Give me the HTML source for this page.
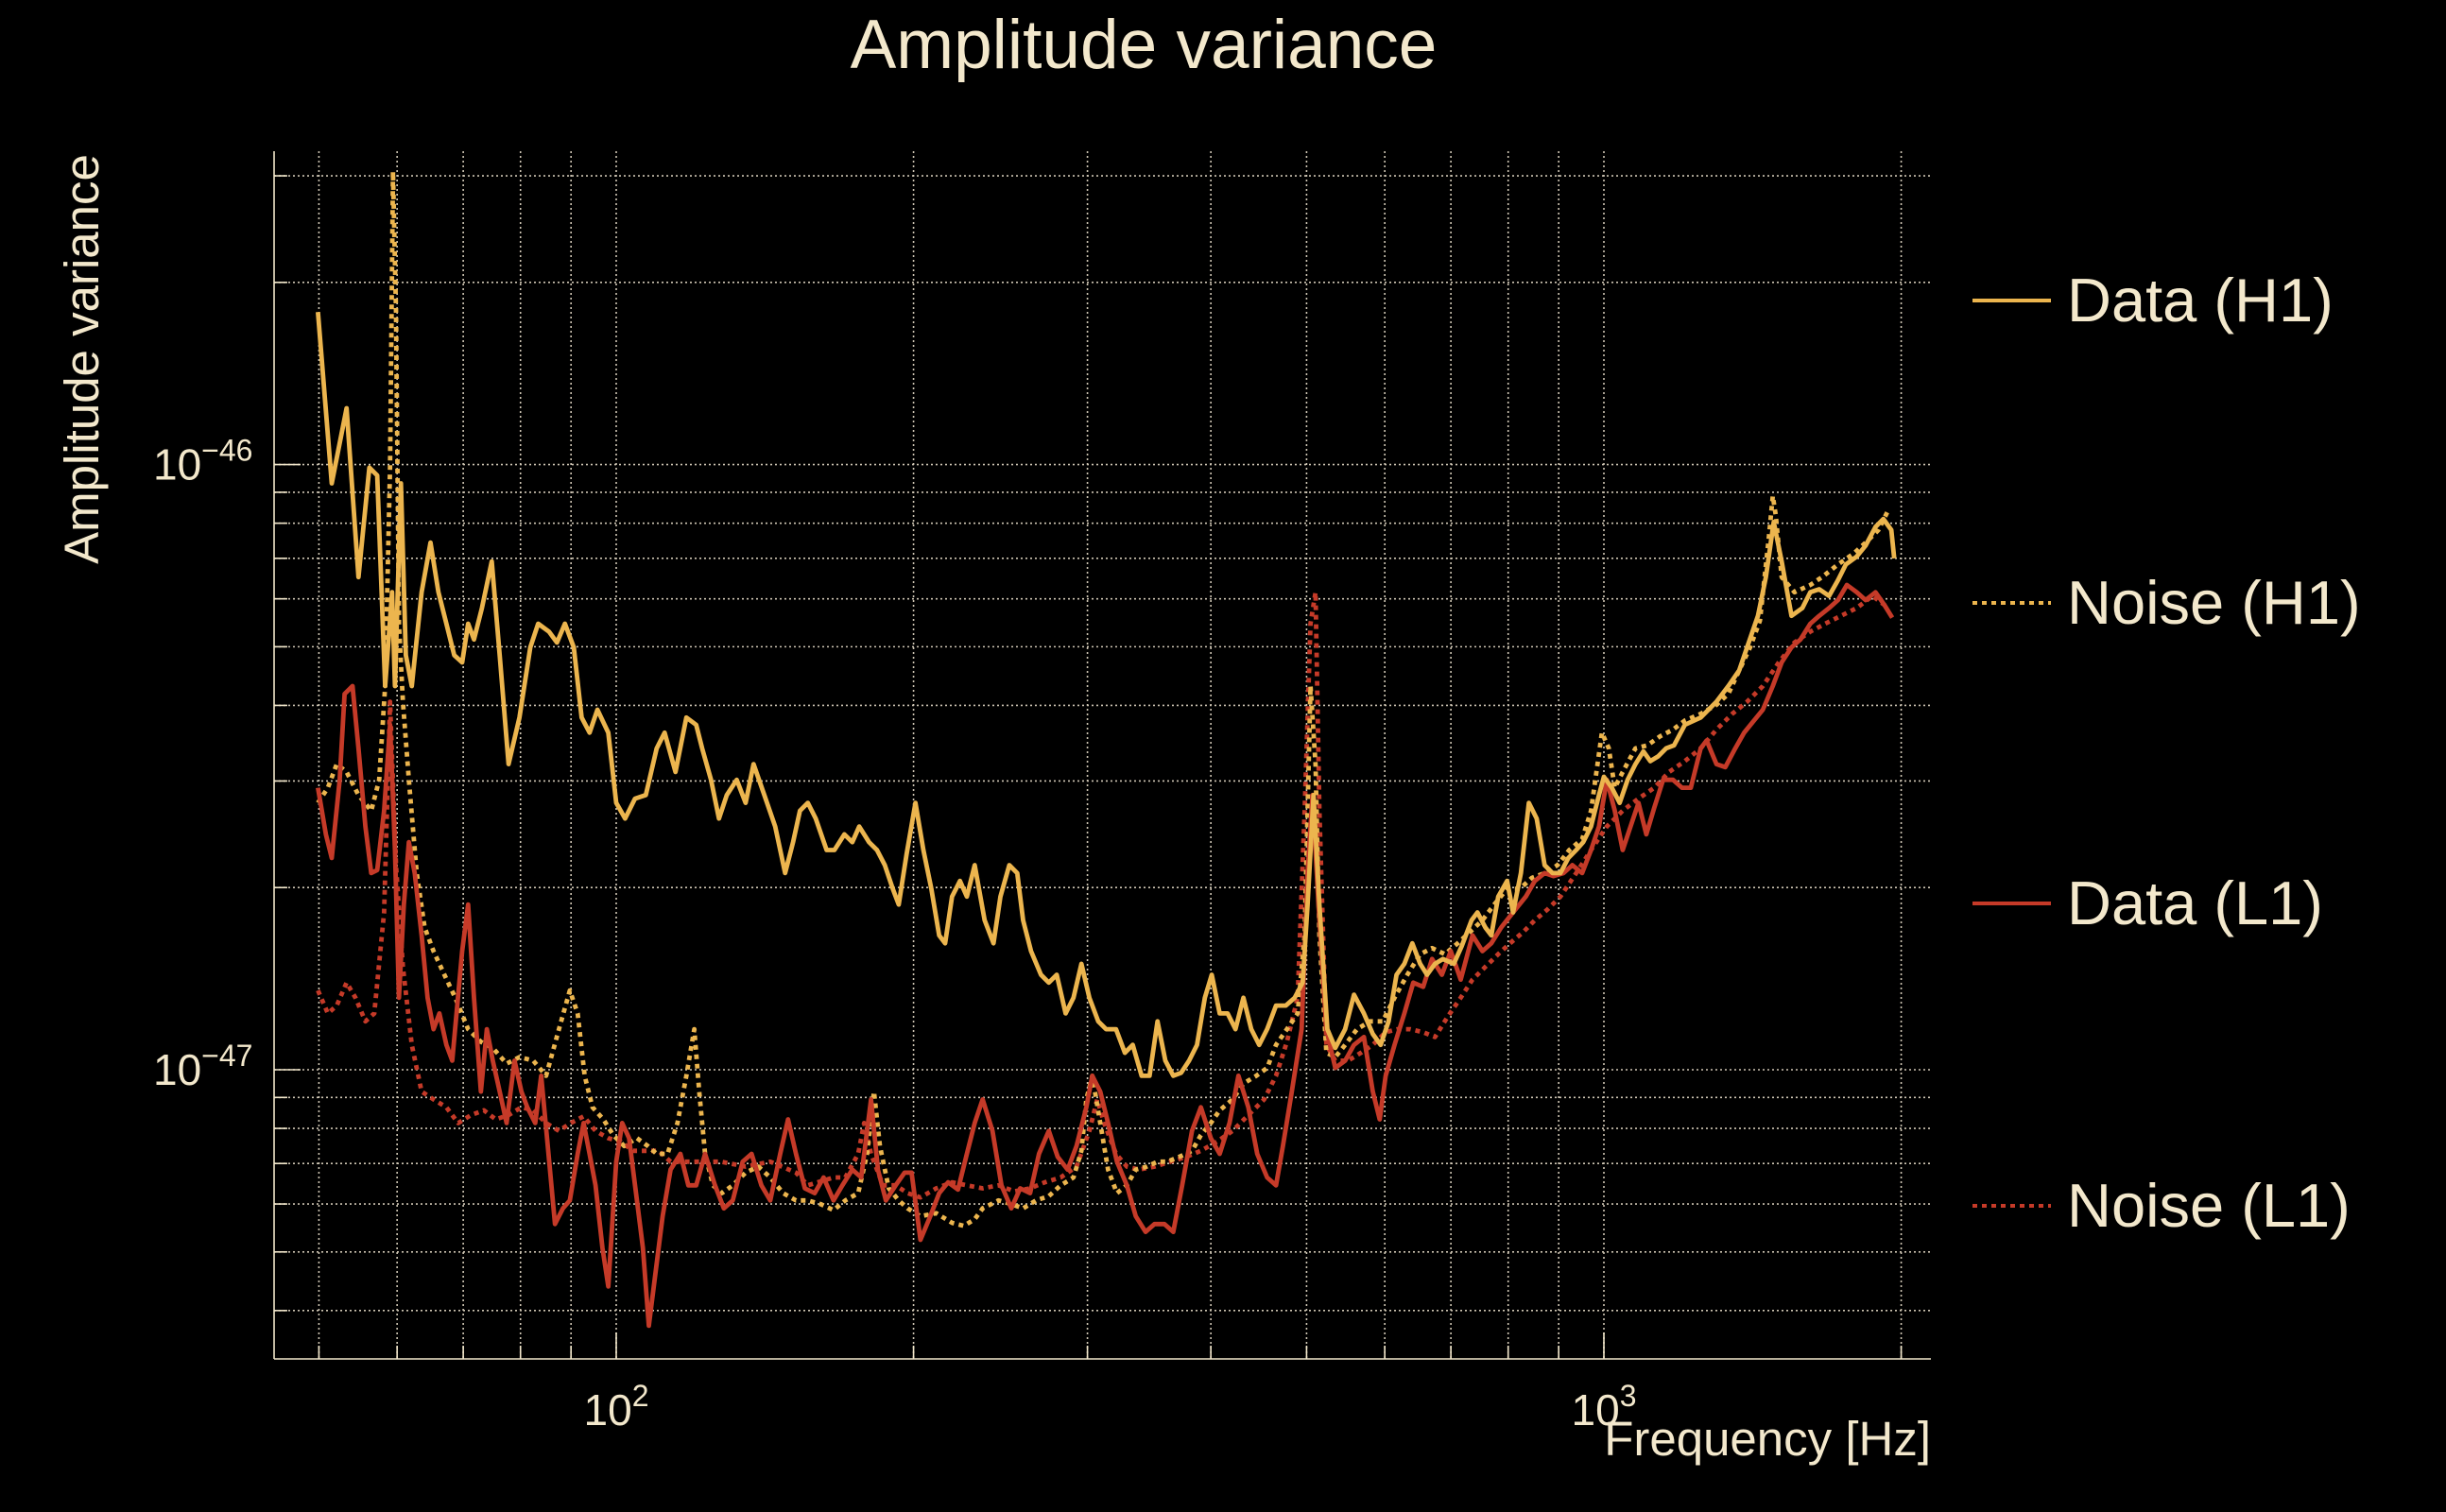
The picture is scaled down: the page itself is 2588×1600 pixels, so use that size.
<!DOCTYPE html>
<html><head><meta charset="utf-8"><style>
html,body{margin:0;padding:0;background:#000;}
svg{display:block;}
text{font-family:"Liberation Sans",sans-serif;fill:#f3e8cc;}
</style></head><body>
<svg id="chart" width="2588" height="1600" viewBox="0 0 2588 1600" xmlns="http://www.w3.org/2000/svg">
<rect x="0" y="0" width="2588" height="1600" fill="#000"/>
<g id="grid"></g>
<g id="axes"></g>
<g id="series"></g>
<text x="1210" y="72" font-size="73" text-anchor="middle">Amplitude variance</text>
<text transform="translate(104,380) rotate(-90)" font-size="51" text-anchor="middle">Amplitude variance</text>
<text x="2043" y="1540" font-size="51" text-anchor="end">Frequency [Hz]</text>
<g id="legend"></g>
</svg>
<script>
const NS="http://www.w3.org/2000/svg";
// data: log10(frequency in Hz) and log10(amplitude variance)
const h1DataLogF=[1.698,1.712,1.727,1.739,1.750,1.758,1.766,1.773,1.776,1.782,1.787,1.793,1.803,1.812,1.820,1.828,1.836,1.844,1.850,1.856,1.864,1.874,1.882,1.891,1.902,1.913,1.921,1.932,1.940,1.948,1.957,1.965,1.973,1.981,1.992,2.000,2.009,2.019,2.030,2.041,2.049,2.060,2.071,2.081,2.087,2.096,2.104,2.112,2.122,2.131,2.139,2.150,2.161,2.171,2.179,2.186,2.194,2.202,2.213,2.221,2.231,2.239,2.246,2.256,2.264,2.272,2.280,2.286,2.294,2.303,2.311,2.319,2.327,2.333,2.340,2.348,2.355,2.363,2.373,2.382,2.389,2.398,2.406,2.412,2.420,2.430,2.438,2.446,2.455,2.463,2.471,2.479,2.488,2.496,2.506,2.515,2.523,2.532,2.540,2.548,2.556,2.564,2.572,2.580,2.588,2.596,2.603,2.611,2.619,2.627,2.635,2.643,2.651,2.659,2.668,2.678,2.687,2.695,2.700,2.706,2.712,2.720,2.728,2.738,2.747,2.757,2.766,2.774,2.782,2.790,2.798,2.806,2.814,2.821,2.829,2.837,2.848,2.856,2.866,2.872,2.880,2.886,2.893,2.902,2.908,2.916,2.924,2.932,2.940,2.948,2.956,2.964,2.972,2.979,2.987,2.995,3.000,3.008,3.016,3.024,3.032,3.040,3.047,3.055,3.063,3.071,3.082,3.098,3.114,3.126,3.137,3.145,3.156,3.164,3.172,3.180,3.190,3.201,3.209,3.218,3.228,3.237,3.245,3.256,3.265,3.275,3.283,3.291,3.294];
const h1DataLogA=[-45.748,-46.031,-45.907,-46.186,-46.005,-46.018,-46.366,-46.211,-46.366,-46.031,-46.315,-46.366,-46.211,-46.129,-46.211,-46.263,-46.315,-46.327,-46.263,-46.289,-46.237,-46.160,-46.315,-46.495,-46.418,-46.302,-46.263,-46.276,-46.294,-46.263,-46.302,-46.418,-46.443,-46.405,-46.443,-46.559,-46.585,-46.552,-46.546,-46.469,-46.443,-46.508,-46.418,-46.430,-46.469,-46.521,-46.585,-46.546,-46.521,-46.559,-46.495,-46.546,-46.598,-46.675,-46.624,-46.572,-46.559,-46.585,-46.637,-46.637,-46.611,-46.624,-46.598,-46.624,-46.637,-46.662,-46.701,-46.727,-46.644,-46.559,-46.637,-46.701,-46.778,-46.791,-46.714,-46.688,-46.714,-46.662,-46.753,-46.791,-46.714,-46.662,-46.675,-46.753,-46.804,-46.843,-46.856,-46.843,-46.907,-46.881,-46.825,-46.881,-46.920,-46.933,-46.933,-46.972,-46.959,-47.010,-47.010,-46.920,-46.985,-47.010,-47.005,-46.985,-46.959,-46.881,-46.843,-46.907,-46.907,-46.933,-46.881,-46.933,-46.959,-46.933,-46.894,-46.894,-46.881,-46.856,-46.727,-46.546,-46.727,-46.933,-46.964,-46.933,-46.876,-46.907,-46.941,-46.959,-46.920,-46.843,-46.825,-46.791,-46.825,-46.843,-46.825,-46.817,-46.825,-46.796,-46.753,-46.740,-46.765,-46.778,-46.714,-46.688,-46.740,-46.675,-46.559,-46.585,-46.662,-46.675,-46.675,-46.650,-46.637,-46.624,-46.598,-46.546,-46.516,-46.534,-46.559,-46.521,-46.495,-46.474,-46.490,-46.482,-46.469,-46.464,-46.430,-46.418,-46.392,-46.366,-46.340,-46.302,-46.250,-46.186,-46.095,-46.160,-46.250,-46.237,-46.211,-46.206,-46.217,-46.191,-46.165,-46.152,-46.134,-46.103,-46.090,-46.108,-46.155];
const h1NoiseLogF=[1.698,1.708,1.717,1.727,1.739,1.752,1.760,1.766,1.771,1.774,1.777,1.780,1.784,1.790,1.798,1.806,1.815,1.826,1.837,1.850,1.863,1.875,1.889,1.902,1.916,1.929,1.942,1.953,1.961,1.968,1.976,1.987,1.997,2.008,2.021,2.032,2.041,2.052,2.062,2.071,2.079,2.084,2.090,2.098,2.107,2.118,2.131,2.144,2.156,2.169,2.182,2.194,2.207,2.220,2.232,2.245,2.254,2.261,2.267,2.276,2.286,2.295,2.308,2.324,2.340,2.352,2.363,2.371,2.387,2.400,2.412,2.425,2.438,2.450,2.463,2.471,2.476,2.482,2.490,2.498,2.507,2.517,2.526,2.537,2.548,2.558,2.570,2.583,2.592,2.602,2.611,2.624,2.635,2.648,2.659,2.668,2.679,2.690,2.697,2.703,2.708,2.712,2.719,2.728,2.738,2.750,2.763,2.776,2.788,2.801,2.814,2.826,2.839,2.852,2.864,2.877,2.889,2.902,2.915,2.927,2.940,2.953,2.965,2.978,2.987,2.998,3.005,3.011,3.019,3.032,3.044,3.057,3.070,3.082,3.098,3.114,3.126,3.137,3.148,3.158,3.167,3.171,3.174,3.180,3.193,3.209,3.221,3.237,3.253,3.265,3.278,3.288];
const h1NoiseLogA=[-46.559,-46.534,-46.495,-46.508,-46.546,-46.572,-46.521,-46.366,-46.005,-45.516,-45.748,-46.263,-46.392,-46.521,-46.675,-46.765,-46.804,-46.843,-46.881,-46.933,-46.954,-46.964,-46.990,-46.979,-46.985,-47.010,-46.933,-46.869,-46.907,-47.010,-47.062,-47.082,-47.108,-47.126,-47.113,-47.126,-47.139,-47.139,-47.088,-47.010,-46.933,-47.036,-47.139,-47.191,-47.204,-47.191,-47.170,-47.160,-47.178,-47.204,-47.216,-47.216,-47.222,-47.232,-47.216,-47.204,-47.139,-47.036,-47.126,-47.196,-47.216,-47.229,-47.242,-47.237,-47.253,-47.258,-47.247,-47.229,-47.216,-47.222,-47.229,-47.216,-47.209,-47.191,-47.178,-47.134,-47.049,-47.010,-47.088,-47.165,-47.204,-47.191,-47.165,-47.160,-47.152,-47.152,-47.144,-47.134,-47.108,-47.088,-47.067,-47.049,-47.023,-47.010,-46.997,-46.959,-46.933,-46.907,-46.778,-46.366,-46.495,-46.778,-46.972,-46.979,-46.959,-46.933,-46.920,-46.920,-46.881,-46.843,-46.809,-46.799,-46.809,-46.791,-46.773,-46.753,-46.727,-46.701,-46.701,-46.683,-46.675,-46.662,-46.637,-46.619,-46.572,-46.443,-46.469,-46.534,-46.508,-46.469,-46.464,-46.449,-46.438,-46.423,-46.412,-46.397,-46.379,-46.340,-46.302,-46.258,-46.121,-46.052,-46.083,-46.186,-46.211,-46.199,-46.186,-46.165,-46.147,-46.129,-46.108,-46.075];
const l1DataLogF=[1.698,1.706,1.712,1.720,1.725,1.733,1.739,1.746,1.752,1.758,1.765,1.771,1.776,1.780,1.785,1.790,1.796,1.803,1.809,1.815,1.821,1.828,1.834,1.844,1.850,1.856,1.863,1.869,1.875,1.882,1.889,1.897,1.904,1.910,1.918,1.924,1.930,1.938,1.946,1.953,1.961,1.967,1.973,1.979,1.986,1.992,2.000,2.006,2.013,2.019,2.027,2.033,2.039,2.047,2.055,2.065,2.073,2.081,2.090,2.100,2.109,2.118,2.128,2.137,2.147,2.156,2.166,2.174,2.182,2.191,2.201,2.210,2.220,2.229,2.239,2.248,2.258,2.265,2.273,2.283,2.292,2.299,2.308,2.318,2.327,2.336,2.346,2.355,2.363,2.371,2.381,2.390,2.400,2.409,2.419,2.428,2.438,2.447,2.457,2.466,2.476,2.482,2.490,2.498,2.507,2.517,2.526,2.536,2.545,2.555,2.564,2.573,2.583,2.592,2.602,2.611,2.621,2.630,2.640,2.649,2.659,2.668,2.675,2.684,2.694,2.700,2.705,2.711,2.719,2.728,2.738,2.747,2.757,2.766,2.773,2.779,2.788,2.798,2.807,2.817,2.826,2.836,2.845,2.855,2.867,2.877,2.886,2.896,2.908,2.921,2.930,2.940,2.949,2.959,2.968,2.978,2.987,2.995,3.003,3.011,3.019,3.027,3.035,3.043,3.051,3.060,3.070,3.079,3.088,3.098,3.104,3.114,3.123,3.133,3.142,3.152,3.161,3.171,3.180,3.190,3.199,3.209,3.218,3.228,3.237,3.246,3.256,3.265,3.275,3.284,3.292];
const l1DataLogA=[-46.534,-46.611,-46.650,-46.521,-46.379,-46.366,-46.469,-46.598,-46.675,-46.670,-46.572,-46.430,-46.637,-46.881,-46.727,-46.624,-46.675,-46.778,-46.881,-46.933,-46.907,-46.959,-46.985,-46.804,-46.727,-46.881,-47.036,-46.933,-46.985,-47.036,-47.088,-46.985,-47.036,-47.062,-47.088,-47.010,-47.113,-47.255,-47.229,-47.216,-47.139,-47.088,-47.139,-47.191,-47.294,-47.358,-47.152,-47.088,-47.113,-47.191,-47.294,-47.423,-47.345,-47.242,-47.165,-47.139,-47.191,-47.191,-47.139,-47.191,-47.229,-47.216,-47.152,-47.139,-47.191,-47.216,-47.139,-47.082,-47.139,-47.196,-47.204,-47.178,-47.216,-47.191,-47.165,-47.178,-47.049,-47.165,-47.216,-47.191,-47.170,-47.170,-47.281,-47.242,-47.204,-47.186,-47.198,-47.139,-47.088,-47.049,-47.101,-47.191,-47.229,-47.196,-47.204,-47.139,-47.101,-47.144,-47.165,-47.126,-47.062,-47.010,-47.036,-47.088,-47.152,-47.191,-47.242,-47.268,-47.255,-47.255,-47.268,-47.191,-47.101,-47.062,-47.113,-47.139,-47.088,-47.010,-47.062,-47.139,-47.178,-47.191,-47.126,-47.036,-46.933,-46.675,-46.546,-46.727,-46.933,-46.997,-46.985,-46.959,-46.946,-47.036,-47.082,-47.010,-46.959,-46.907,-46.856,-46.863,-46.817,-46.843,-46.804,-46.851,-46.778,-46.804,-46.791,-46.765,-46.740,-46.714,-46.688,-46.675,-46.680,-46.675,-46.662,-46.675,-46.637,-46.598,-46.521,-46.572,-46.637,-46.598,-46.559,-46.611,-46.567,-46.521,-46.521,-46.534,-46.534,-46.469,-46.456,-46.495,-46.500,-46.469,-46.443,-46.423,-46.405,-46.366,-46.327,-46.302,-46.289,-46.263,-46.250,-46.237,-46.224,-46.199,-46.211,-46.224,-46.211,-46.232,-46.253];
const l1NoiseLogF=[1.698,1.708,1.717,1.727,1.736,1.746,1.755,1.765,1.771,1.777,1.784,1.793,1.803,1.815,1.828,1.840,1.853,1.866,1.878,1.891,1.904,1.916,1.929,1.942,1.954,1.967,1.979,1.992,2.005,2.017,2.030,2.043,2.055,2.081,2.106,2.131,2.156,2.182,2.194,2.220,2.232,2.245,2.251,2.258,2.270,2.283,2.295,2.308,2.324,2.340,2.355,2.371,2.387,2.403,2.419,2.434,2.450,2.466,2.479,2.487,2.494,2.506,2.517,2.529,2.545,2.561,2.577,2.592,2.608,2.624,2.640,2.656,2.668,2.679,2.690,2.697,2.703,2.708,2.712,2.719,2.728,2.741,2.754,2.766,2.779,2.791,2.804,2.817,2.829,2.842,2.855,2.867,2.880,2.893,2.905,2.918,2.930,2.943,2.956,2.972,2.987,3.003,3.019,3.035,3.051,3.066,3.082,3.098,3.114,3.130,3.145,3.161,3.177,3.193,3.209,3.224,3.240,3.256,3.272,3.288];
const l1NoiseLogA=[-46.869,-46.907,-46.894,-46.856,-46.881,-46.920,-46.907,-46.740,-46.392,-46.662,-46.830,-46.959,-47.036,-47.049,-47.062,-47.088,-47.075,-47.067,-47.082,-47.075,-47.062,-47.067,-47.088,-47.101,-47.088,-47.077,-47.101,-47.113,-47.119,-47.134,-47.134,-47.134,-47.152,-47.152,-47.152,-47.160,-47.152,-47.170,-47.191,-47.178,-47.178,-47.139,-47.088,-47.139,-47.191,-47.191,-47.204,-47.211,-47.196,-47.186,-47.191,-47.196,-47.191,-47.201,-47.196,-47.186,-47.178,-47.160,-47.101,-47.049,-47.088,-47.139,-47.160,-47.165,-47.160,-47.152,-47.144,-47.134,-47.119,-47.101,-47.075,-47.049,-47.010,-46.954,-46.881,-46.572,-46.263,-46.211,-46.572,-46.959,-46.985,-46.985,-46.972,-46.959,-46.938,-46.933,-46.933,-46.938,-46.946,-46.912,-46.881,-46.851,-46.830,-46.809,-46.791,-46.773,-46.753,-46.735,-46.714,-46.675,-46.637,-46.598,-46.572,-46.552,-46.534,-46.508,-46.490,-46.469,-46.438,-46.412,-46.392,-46.366,-46.327,-46.294,-46.276,-46.263,-46.250,-46.237,-46.217,-46.237];
const xTickLabels=["2","3"];
const yTickLabels=["-46","-47"];
const seriesNames=["Data (H1)","Noise (H1)","Data (L1)","Noise (L1)"];

const PL=290,PR=2043,PT=160,PB=1438;
function xs(lf){return 652+(lf-2)*1045;}
function ys(la){return 1132-(la+47)*640.4;}

const grid=document.getElementById('grid');
const axes=document.getElementById('axes');
function mk(tag,attrs,parent){const e=document.createElementNS(NS,tag);for(const k in attrs)e.setAttribute(k,attrs[k]);parent.appendChild(e);return e;}
[50,60,70,80,90,100,200,300,400,500,600,700,800,900,1000,2000].forEach(f=>{
  const x=xs(Math.log10(f));
  const l=mk('line',{x1:x,x2:x,y1:PT,y2:PB,stroke:'#cfc6b4','stroke-width':1.6,'stroke-dasharray':'2 3'},grid);
  
  
  const t=mk('line',{x1:x,x2:x,y1:PB,y2:PB-((f===100||f===1000)?28:14),stroke:'#f3e8cc','stroke-width':1.6},axes);
  
  
});
const yv=[];
[0.4,0.5,0.6,0.7,0.8,0.9,1,2,3,4,5,6,7,8,9,10,20,30].forEach(m=>yv.push(-47+Math.log10(m)));
yv.forEach(v=>{
  const y=ys(v);
  const l=mk('line',{x1:PL,x2:PR,y1:y,y2:y,stroke:'#cfc6b4','stroke-width':1.6,'stroke-dasharray':'2 3'},grid);
  
  
  const major=Math.abs(v-Math.round(v))<1e-6;
  const t=mk('line',{x1:PL,x2:PL+(major?28:14),y1:y,y2:y,stroke:'#f3e8cc','stroke-width':1.6},axes);
  
  
});
const sp1=mk('line',{x1:PL,x2:PL,y1:PT,y2:PB,stroke:'#f3e8cc','stroke-width':1.6},axes);


const sp2=mk('line',{x1:PL,x2:PR,y1:PB,y2:PB,stroke:'#f3e8cc','stroke-width':1.6},axes);


xTickLabels.forEach(e=>{
  const x=xs(+e);
  const t=mk('text',{x:x,y:1508,'font-size':46,'text-anchor':'middle'},axes);
  
  
  t.innerHTML='10<tspan dy="-20" font-size="32">'+e+'</tspan>';
});
yTickLabels.forEach(e=>{
  const y=ys(+e);
  const t=mk('text',{x:162,y:y+16,'font-size':46},axes);
  
  
  t.innerHTML='10<tspan dy="-20" font-size="32">\u2212'+e.slice(1)+'</tspan>';
});
const H1='#ecb54e',L1='#c53a28';
const defs=[[h1DataLogF,h1DataLogA,H1,null,'data-h1-line'],[h1NoiseLogF,h1NoiseLogA,H1,'5 5','noise-h1-line'],[l1DataLogF,l1DataLogA,L1,null,'data-l1-line'],[l1NoiseLogF,l1NoiseLogA,L1,'5 5','noise-l1-line']];
const sg=document.getElementById('series');
[3,1,2,0].forEach(i=>{
  const [fx,ay,c,dash,name]=defs[i];
  let d='';
  fx.forEach((f,j)=>{d+=(j?'L':'M')+xs(f).toFixed(1)+' '+ys(ay[j]).toFixed(1);});
  const p=mk('path',{d:d,fill:'none',stroke:c,'stroke-width':4.8,'stroke-linejoin':'round'},sg);
  if(dash)p.setAttribute('stroke-dasharray',dash);
  
  
});
const lg=document.getElementById('legend');
const ly=[318,638,956,1276];
seriesNames.forEach((n,i)=>{
  const c=i<2?H1:L1;
  const l=mk('line',{x1:2087,x2:2170,y1:ly[i],y2:ly[i],stroke:c,'stroke-width':4},lg);
  if(i%2===1)l.setAttribute('stroke-dasharray','5 5');
  
  
  const t=mk('text',{x:2187,y:ly[i]+22,'font-size':65},lg);
  t.textContent=n;
  
  
});
</script>
</body></html>
